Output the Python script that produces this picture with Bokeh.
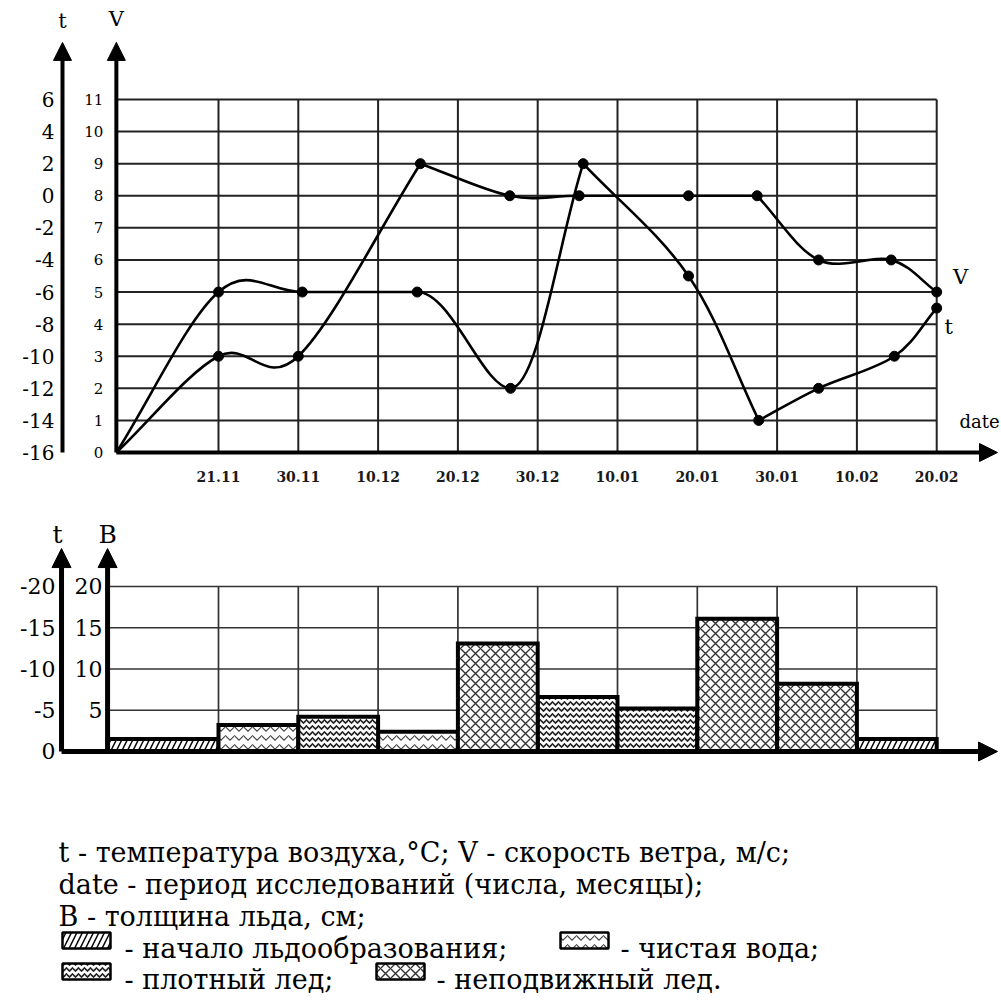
import numpy as np
from bokeh.plotting import figure
from bokeh.models import Range1d, LinearAxis, FixedTicker, Arrow, NormalHead
from bokeh.layouts import column
from bokeh.embed import file_html
from bokeh.resources import INLINE
from bokeh.core.properties import value

FONT = "DejaVu Serif"

# ---------------- data ----------------
dates = ["21.11", "30.11", "10.12", "20.12", "30.12", "10.01", "20.01", "30.01", "10.02", "20.02"]
date_pos = [1, 2, 3, 4, 5, 6, 7, 8, 9, 10]          # grid columns of the dates
start_top = -0.28                                  # start of observations (upper chart origin)
start_bot = -0.39                                  # left edge of the first ice column

# wind speed V, m/s
v_x = [-0.28, 1.0, 2.0, 3.53, 4.65, 5.52, 6.89, 7.75, 8.52, 9.43, 10.0]
v_val = [0, 3, 3, 9, 8, 8, 8, 8, 6, 6, 5]
v_sharp = [3, 7]
v_flat = []

# air temperature t, C
t_x = [-0.28, 1.0, 2.05, 3.49, 4.66, 5.57, 6.89, 7.77, 8.52, 9.47, 10.0]
t_val = [-16, -6, -6, -6, -12, 2, -5, -14, -12, -10, -7]
t_sharp = [5, 7]
t_flat = [3, 4]

v_ticks = [0, 1, 2, 3, 4, 5, 6, 7, 8, 9, 10, 11]
t_ticks = [-16, -14, -12, -10, -8, -6, -4, -2, 0, 2, 4, 6]

# ice thickness B, cm (one column per period)
ice_b = [1.5, 3.2, 4.2, 2.4, 13.1, 6.6, 5.2, 16.1, 8.2, 1.5]
ice_kind = ["start", "water", "dense", "water", "fixed", "dense", "dense", "fixed", "fixed", "start"]
b_ticks = [5, 10, 15, 20]
tb_ticks = [-20, -15, -10, -5, 0]

legend_lines = [
    "t - температура воздуха,°C; V - скорость ветра, м/с;",
    "date - период исследований (числа, месяцы);",
    "B - толщина льда, см;",
]
legend_items = [
    ("start", "- начало льдообразования;"),
    ("water", "- чистая вода;"),
    ("dense", "- плотный лед;"),
    ("fixed", "- неподвижный лед."),
]

# ---------------- styles ----------------
HATCH = {
    "start": dict(fill_color="black", hatch_pattern="right_diagonal_line", hatch_color="white",
                  hatch_weight=3.5, hatch_scale=11),
    "water": dict(fill_color="white", hatch_pattern="horizontal_wave", hatch_color="#444444",
                  hatch_weight=1.1, hatch_scale=9),
    "dense": dict(fill_color="white", hatch_pattern="horizontal_wave", hatch_color="#222222",
                  hatch_weight=1.7, hatch_scale=6),
    "fixed": dict(fill_color="white", hatch_pattern="diagonal_cross", hatch_color="#333333",
                  hatch_weight=1.4, hatch_scale=10),
}

W = 1000
XL, XR = -1.7318, 10.7995        # x range shared by both charts (date-grid units)
T_AXIS_TOP = -0.955
T_AXIS_BOT = -0.967
X_TIP = 10.762


def bezier_parts(xs, ys, sharp, flat):
    P = np.column_stack([xs, ys]).astype(float)
    n = len(P)
    tin = np.zeros_like(P)
    tout = np.zeros_like(P)
    for i in range(n):
        if i == 0:
            tin[i] = tout[i] = P[1] - P[0]
        elif i == n - 1:
            tin[i] = tout[i] = P[-1] - P[-2]
        elif i in sharp:
            tin[i] = P[i] - P[i - 1]
            tout[i] = P[i + 1] - P[i]
        elif i in flat:
            tin[i] = tout[i] = [(P[i + 1, 0] - P[i - 1, 0]) / 2, 0.0]
        else:
            tin[i] = tout[i] = (P[i + 1] - P[i - 1]) / 2
    c0 = P[:-1] + tout[:-1] / 3
    c1 = P[1:] - tin[1:] / 3
    return dict(x0=P[:-1, 0], y0=P[:-1, 1], x1=P[1:, 0], y1=P[1:, 1],
                cx0=c0[:, 0], cy0=c0[:, 1], cx1=c1[:, 0], cy1=c1[:, 1])


def vaxis(range_name, loc, ticks, size, standoff):
    ax = LinearAxis(y_range_name=range_name, fixed_location=loc, ticker=FixedTicker(ticks=ticks))
    ax.axis_line_color = None
    ax.major_tick_line_color = None
    ax.minor_tick_line_color = None
    ax.major_tick_in = 0
    ax.major_tick_out = 0
    ax.major_label_text_font = FONT
    ax.major_label_text_font_size = f"{size}px"
    ax.major_label_text_color = "black"
    ax.major_label_standoff = standoff
    ax.major_label_overrides = {v: str(v) for v in ticks}
    return ax


def arrow(p, xs, ys, xe, ye, lw, size):
    p.add_layout(Arrow(end=NormalHead(size=size, fill_color="black", line_color="black", line_width=1),
                       x_start=xs, y_start=ys, x_end=xe, y_end=ye, line_width=lw,
                       line_color="black"))


def base_fig(h, xr, yr):
    return figure(width=W, height=h, x_range=xr, y_range=yr, x_axis_type=None, y_axis_type=None,
                  toolbar_location=None, output_backend="svg", min_border=0,
                  outline_line_color=None, background_fill_color="white", border_fill_color="white")


tf = value(FONT)

# ================= upper chart =================
H1 = 508
V_LO, V_HI = -1.745, 14.085
tv = (t_ticks[1] - t_ticks[0]) / (v_ticks[1] - v_ticks[0])
T_LO = t_ticks[0] + (V_LO - v_ticks[0]) * tv
T_HI = t_ticks[0] + (V_HI - v_ticks[0]) * tv

p1 = base_fig(H1, Range1d(XL, XR), Range1d(V_LO, V_HI))
p1.extra_y_ranges = {"t": Range1d(T_LO, T_HI)}

vmax = v_ticks[-1]
p1.segment(x0=[start_top] * (len(v_ticks) - 1), y0=v_ticks[1:], x1=[date_pos[-1]] * (len(v_ticks) - 1),
           y1=v_ticks[1:], line_color="#222222", line_width=2)
p1.segment(x0=date_pos, y0=[0] * len(date_pos), x1=date_pos, y1=[vmax] * len(date_pos),
           line_color="#222222", line_width=2)

top_tip = 12.78
arrow(p1, T_AXIS_TOP, 0, T_AXIS_TOP, top_tip, 4, 18)
arrow(p1, start_top, 0, start_top, top_tip, 4, 18)
arrow(p1, start_top, 0, X_TIP, 0, 4, 18)

p1.add_layout(vaxis("t", T_AXIS_TOP, t_ticks, 20, 8), "left")
p1.add_layout(vaxis("default", start_top, v_ticks, 15, 13), "left")

dax = LinearAxis(fixed_location=0, ticker=FixedTicker(ticks=date_pos))
dax.axis_line_color = None
dax.major_tick_line_color = None
dax.minor_tick_line_color = None
dax.major_tick_in = 0
dax.major_tick_out = 0
dax.major_label_standoff = 18
dax.major_label_text_font = FONT
dax.major_label_text_font_size = "14px"
dax.major_label_text_font_style = "bold"
dax.major_label_text_color = "#1a1a1a"
dax.major_label_overrides = {pos: d for pos, d in zip(date_pos, dates)}
p1.add_layout(dax, "below")

p1.bezier(**bezier_parts(v_x, v_val, v_sharp, v_flat), line_color="black", line_width=2.6)
p1.bezier(**bezier_parts(t_x, t_val, t_sharp, t_flat), line_color="black", line_width=2.6,
          y_range_name="t")
p1.scatter(v_x[1:], v_val[1:], size=10, color="black")
p1.scatter(t_x[1:], t_val[1:], size=10, color="black", y_range_name="t")

p1.text(x=[T_AXIS_TOP, start_top], y=[13.46, 13.5], text=["t", "V"], text_font=tf,
        text_font_size="21px", text_align="center", text_baseline="middle", text_color="black")
p1.text(x=[10.30, 10.15], y=[5.48, 3.9], text=["V", "t"], text_font=tf,
        text_font_size="21px", text_align="center", text_baseline="middle", text_color="black")
p1.text(x=[10.79], y=[0.97], text=["date"], text_font=tf, text_font_size="18px",
        text_align="right", text_baseline="middle", text_color="black")

# ================= lower chart =================
H2 = 290
B_LO, B_HI = -5.697, 29.4545
p2 = base_fig(H2, Range1d(XL, XR), Range1d(B_LO, B_HI))
p2.extra_y_ranges = {"tb": Range1d(-B_LO, -B_HI)}

bmax = b_ticks[-1]
p2.segment(x0=[start_bot] * len(b_ticks), y0=b_ticks, x1=[date_pos[-1]] * len(b_ticks), y1=b_ticks,
           line_color="#333333", line_width=1.7)
p2.segment(x0=date_pos, y0=[0] * len(date_pos), x1=date_pos, y1=[bmax] * len(date_pos),
           line_color="#333333", line_width=1.7)

lefts = [start_bot] + date_pos[:-1]
rights = date_pos
for kind, st in HATCH.items():
    idx = [i for i, k in enumerate(ice_kind) if k == kind]
    p2.quad(left=[lefts[i] for i in idx], right=[rights[i] for i in idx],
            bottom=[0] * len(idx), top=[ice_b[i] for i in idx],
            line_color="black", line_width=4, line_join="miter", **st)

bot_tip = 24.6
arrow(p2, T_AXIS_BOT, 0, T_AXIS_BOT, bot_tip, 5, 19)
arrow(p2, start_bot, 0, start_bot, bot_tip, 5, 19)
arrow(p2, T_AXIS_BOT, 0, X_TIP, 0, 5, 19)

p2.add_layout(vaxis("tb", T_AXIS_BOT, tb_ticks, 22, 6), "left")
p2.add_layout(vaxis("default", start_bot, b_ticks, 22, 5), "left")

p2.text(x=[T_AXIS_BOT - 0.05, start_bot], y=[26.3, 26.3], text=["t", "B"], text_font=tf,
        text_font_size="25px", text_align="center", text_baseline="middle", text_color="black")

# ================= legend text =================
H3 = 202
FS = "27px"
p3 = base_fig(H3, Range1d(0, W), Range1d(H3, 0))
base_y = [54, 86, 118]
p3.text(x=[58] * 3, y=base_y, text=legend_lines, text_font=tf, text_font_size=FS,
        text_baseline="alphabetic", text_color="black")

rows = [150, 181]
icon_x = [62, 560, 62, 376]
text_x = [124, 620, 124, 436]
icon_y = [rows[0], rows[0], rows[1], rows[1]]
for (kind, label), ix, tx, by in zip(legend_items, icon_x, text_x, icon_y):
    p3.quad(left=[ix], right=[ix + 48], top=[by - 16], bottom=[by], line_color="black",
            line_width=2.5, **HATCH[kind])
    p3.text(x=[tx], y=[by], text=[label], text_font=tf, text_font_size=FS,
            text_baseline="alphabetic", text_color="black")

layout = column(p1, p2, p3, spacing=0)
open("out.html", "w").write(file_html(layout, INLINE))
